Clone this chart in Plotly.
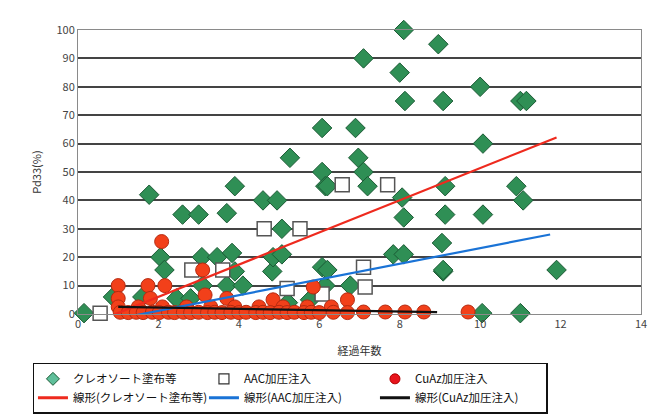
import plotly.graph_objects as go

# --- Data -----------------------------------------------------------------
# クレオソート塗布等 (elapsed years, value %)
creo_x = [0.15, 0.87, 1.6, 1.77, 2.05, 2.15, 2.45, 2.8, 2.6, 3.0, 3.08, 3.1, 3.46,
          3.7, 3.7, 3.83, 3.9, 3.9, 4.1, 4.6, 4.95, 4.83, 4.85, 5.07, 5.07, 5.22,
          5.27, 5.77, 6.07, 6.07, 6.07, 6.15, 6.15, 6.2, 6.2, 6.77, 6.9, 6.97,
          7.1, 7.1, 7.2, 7.84, 8.1, 8.06, 8.1, 8.0, 8.13, 8.1, 8.96, 9.05, 9.08,
          9.13, 9.13, 9.08, 9.08, 10.0, 10.07, 10.07, 10.05, 10.9, 11.07, 11.0,
          11.15, 11.0, 11.9]
creo_y = [0.3, 6, 6, 42, 20, 15.5, 5.5, 5.5, 35, 35, 20, 10, 20,
          35.5, 10, 21.5, 15, 45, 10, 40, 40, 15, 20, 30, 21, 4,
          55, 5, 65.5, 50, 16.5, 45, 10, 15.5, 45, 10, 65.5, 55,
          50, 90, 45, 21, 21, 41, 34, 85, 75, 100, 95, 25, 15,
          45, 35, 75, 15.5, 80, 60, 35, 0.3, 45, 40, 75,
          75, 0.3, 15.5]

# AAC加圧注入
aac_x = [0.55, 2.83, 3.6, 4.63, 5.2, 5.52, 6.07, 6.57, 7.1, 7.14, 7.7]
aac_y = [0.3, 15.5, 15.5, 30, 9, 30, 7, 45.5, 16.5, 9.5, 45.5]

# CuAz加圧注入
cuaz_x = [1.0, 1.0, 1.74, 1.8, 2.08, 2.16, 3.1, 3.16, 3.7, 4.85, 5.85, 6.7,
          1.0, 1.5, 2.1, 2.7, 3.3, 3.9, 4.5, 5.1, 5.7, 6.3,
          1.05, 1.25, 1.45, 1.62, 1.85, 2.02, 2.25, 2.4, 2.62, 2.8, 3.0, 3.22,
          3.4, 3.58, 3.8, 4.0, 4.18, 4.42, 4.6, 4.78, 5.0, 5.2, 5.38, 5.62,
          5.8, 6.0, 6.35, 6.7, 7.1, 7.64, 8.13, 8.6, 9.7]
cuaz_y = [10, 5.5, 10, 5.5, 25.5, 10, 15.5, 6.7, 5.5, 5, 9.5, 5,
          2.5, 2.5, 2.5, 2.5, 2.5, 2.5, 2.5, 2.5, 2.5, 2.5,
          0.6, 0.5, 0.6, 0.5, 0.6, 0.5, 0.6, 0.5, 0.6, 0.5, 0.6, 0.5,
          0.6, 0.5, 0.6, 0.5, 0.6, 0.5, 0.6, 0.5, 0.6, 0.5, 0.6, 0.5,
          0.6, 0.5, 0.6, 0.5, 0.7, 0.7, 0.7, 0.7, 0.7]

# Linear trend lines: slope, intercept and x extent of each fit
trend_names = ["線形(クレオソート塗布等)", "線形(AAC加圧注入)", "線形(CuAz加圧注入)"]
trend_slope = [5.67, 2.76, -0.23]
trend_intercept = [-5.3, -4.4, 2.73]
trend_x0 = [0.15, 0.55, 1.0]
trend_x1 = [11.9, 11.74, 8.93]
trend_color = ["#ee2a1e", "#1a73d6", "#111111"]

x_ticks = [0, 2, 4, 6, 8, 10, 12, 14]
y_ticks = [0, 10, 20, 30, 40, 50, 60, 70, 80, 90, 100]

FONT = "Noto Sans CJK JP, Noto Sans, sans-serif"

# marker styles: plotted size and the smaller legend-key style
series = [
    ("クレオソート塗布等", creo_x, creo_y,
     dict(symbol="diamond", color="#2f8f55", line=dict(color="#1c5a35", width=1)), 15,
     dict(symbol="diamond", color="#5fbf9a", line=dict(color="#1c5a35", width=1))),
    ("AAC加圧注入", aac_x, aac_y,
     dict(symbol="square", color="white", line=dict(color="#555555", width=1.5)), 14,
     dict(symbol="square", color="white", line=dict(color="#333333", width=1.2))),
    ("CuAz加圧注入", cuaz_x, cuaz_y,
     dict(symbol="circle", color="#f2401a", line=dict(color="#b52a10", width=1)), 14,
     dict(symbol="circle", color="#e8141c", line=dict(color="#b00000", width=1))),
]

fig = go.Figure()

for name, xs, ys, mk, size, _ in series:
    fig.add_trace(go.Scatter(
        x=xs, y=ys, mode="markers", name=name, legendgroup=name,
        cliponaxis=False, showlegend=False,
        marker=dict(size=size, **mk),
    ))

for name, m, b, x0, x1, c in zip(trend_names, trend_slope, trend_intercept,
                                 trend_x0, trend_x1, trend_color):
    xs = [x0, x1]
    ys = [m * v + b for v in xs]
    fig.add_trace(go.Scatter(
        x=xs, y=ys, mode="lines", name=name, showlegend=False,
        line=dict(color=c, width=2.2),
    ))

# legend keys (empty traces carrying the compact legend symbols)
for name, _, _, _, _, key in series:
    fig.add_trace(go.Scatter(
        x=[None], y=[None], mode="markers", name=name, legendgroup=name,
        marker=dict(size=10, **key),
    ))
for name, c in zip(trend_names, trend_color):
    fig.add_trace(go.Scatter(
        x=[None], y=[None], mode="lines", name=name,
        line=dict(color=c, width=3),
    ))

fig.update_layout(
    width=654, height=414,
    margin=dict(l=78, r=13, t=30, b=100, autoexpand=False),
    paper_bgcolor="white", plot_bgcolor="white",
    font=dict(family=FONT, size=11, color="#333333"),
    showlegend=True,
    legend=dict(
        orientation="h",
        x=-0.08, xanchor="left",
        y=-0.172, yanchor="top",
        bordercolor="#111111", borderwidth=1.5,
        bgcolor="white",
        font=dict(family=FONT, size=11.5, color="#111111"),
        entrywidth=126, entrywidthmode="pixels",
        itemwidth=30, tracegroupgap=0,
    ),
    xaxis=dict(
        range=[0, 14], tickvals=x_ticks, ticktext=[str(v) for v in x_ticks],
        showgrid=False, zeroline=False,
        showline=True, linecolor="#8a8a8a", linewidth=1, mirror=True,
        ticks="", tickfont=dict(size=11, color="#444444"),
        title=dict(text="経過年数", font=dict(size=11, color="#333333"), standoff=17),
    ),
    yaxis=dict(
        range=[0, 100], tickvals=y_ticks, ticktext=[str(v) for v in y_ticks],
        showgrid=True, gridcolor="#444444", gridwidth=1.6,
        zeroline=False,
        showline=True, linecolor="#8a8a8a", linewidth=1, mirror=True,
        ticks="", tickfont=dict(size=11, color="#444444"),
        title=dict(text="Pd33(%)", font=dict(size=11, color="#333333"), standoff=12),
    ),
)

fig.write_html("out.html")
